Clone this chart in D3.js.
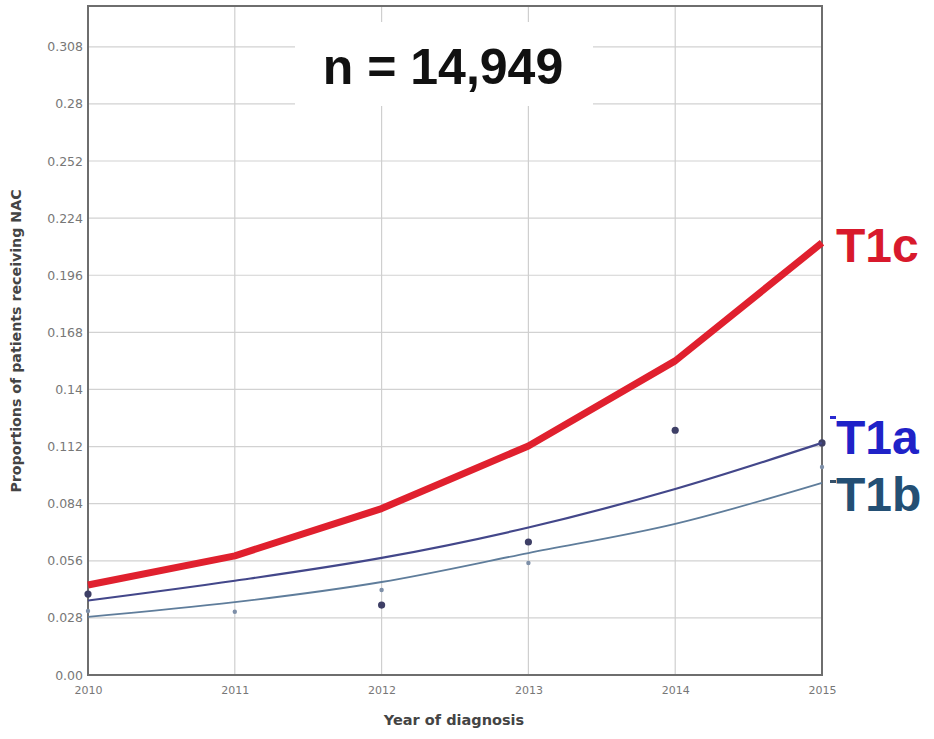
<!DOCTYPE html>
<html><head><meta charset="utf-8">
<script src="https://cdn.jsdelivr.net/npm/d3@7"></script>
<style>body{margin:0;background:#fff}svg{display:block}</style>
</head><body>
<svg id="c" width="934" height="739"></svg>
<script>
const years = [2010, 2011, 2012, 2013, 2014, 2015];
const t1cFit = [0.0441, 0.0584, 0.0816, 0.1123, 0.1540, 0.2119];
const t1aFit = [0.0365, 0.0462, 0.0574, 0.0723, 0.0912, 0.1138];
const t1bFit = [0.0285, 0.0357, 0.0456, 0.0598, 0.0741, 0.0942];
const t1aObs = [0.0397, null, 0.0343, 0.0652, 0.1200, 0.1138];
const t1bObs = [0.0314, 0.0310, 0.0417, 0.0549, null, 0.1020];
const yTicks = [0, 0.028, 0.056, 0.084, 0.112, 0.14, 0.168, 0.196, 0.224, 0.252, 0.28, 0.308];
const yTickLabels = ["0.00", "0.028", "0.056", "0.084", "0.112", "0.14", "0.168", "0.196", "0.224", "0.252", "0.28", "0.308"];
const seriesNames = ["T1c", "T1a", "T1b"];

const svg = d3.select("#c");
const L = 88, R = 822, T = 6, B = 675;
const x = d3.scaleLinear().domain([2010, 2015]).range([L, R]);
const y = d3.scaleLinear().domain([0, 0.328]).range([B, T]);

// gridlines
const g = svg.append("g");
g.selectAll("line.h").data(yTicks).join("line")
  .attr("x1", L).attr("x2", R).attr("y1", d => y(d)).attr("y2", d => y(d))
  .attr("stroke", "#d2d2d2").attr("stroke-width", 1.2);
g.selectAll("line.v").data(years).join("line")
  .attr("x1", d => x(d)).attr("x2", d => x(d)).attr("y1", T).attr("y2", B)
  .attr("stroke", "#cfcfcf").attr("stroke-width", 1.2);

// axes
const yAxis = d3.axisLeft(y).tickValues(yTicks).tickSize(0).tickPadding(5)
  .tickFormat((d, i) => yTickLabels[i]);
const ya = svg.append("g").attr("transform", `translate(${L},0)`).call(yAxis);
ya.select(".domain").remove();
ya.selectAll("text").attr("font-family", "DejaVu Sans, Verdana, sans-serif")
  .attr("font-size", 12.5).attr("fill", "#777");

const xAxis = d3.axisBottom(x).tickValues(years).tickSize(0).tickPadding(11).tickFormat(d3.format("d"));
const xa = svg.append("g").attr("transform", `translate(0,${B})`).call(xAxis);
xa.select(".domain").remove();
xa.selectAll("text").attr("font-family", "DejaVu Sans, Verdana, sans-serif")
  .attr("font-size", 11).attr("fill", "#777");

// frame
svg.append("rect").attr("x", L).attr("y", T).attr("width", R - L).attr("height", B - T)
  .attr("fill", "none").attr("stroke", "#6e6e6e").attr("stroke-width", 2);

// axis titles
svg.append("text").attr("x", 454).attr("y", 725).attr("text-anchor", "middle")
  .attr("font-family", "DejaVu Sans, Verdana, sans-serif").attr("font-weight", "bold")
  .attr("font-size", 14.5).attr("fill", "#444").text("Year of diagnosis");
svg.append("text").attr("transform", "translate(21,341) rotate(-90)").attr("text-anchor", "middle")
  .attr("font-family", "DejaVu Sans, Verdana, sans-serif").attr("font-weight", "bold")
  .attr("font-size", 14.2).attr("fill", "#444").text("Proportions of patients receiving NAC");

// n label with white box
svg.append("rect").attr("x", 295).attr("y", 22).attr("width", 298).attr("height", 84).attr("fill", "#fff");
svg.append("text").attr("x", 443).attr("y", 84).attr("text-anchor", "middle")
  .attr("font-family", "Liberation Sans, Arial, sans-serif").attr("font-weight", "bold")
  .attr("font-size", 50).attr("fill", "#111").text("n = 14,949");

const line = d3.line().x((d, i) => x(years[i])).y(d => y(d));
const lineSmooth = d3.line().x((d, i) => x(years[i])).y(d => y(d)).curve(d3.curveMonotoneX);

// observed points
svg.append("g").selectAll("circle").data(t1bObs.map((v, i) => [years[i], v]).filter(d => d[1] != null)).join("circle")
  .attr("cx", d => x(d[0])).attr("cy", d => y(d[1])).attr("r", 2.2).attr("fill", "#7d8fa8");
svg.append("g").selectAll("circle").data(t1aObs.map((v, i) => [years[i], v]).filter(d => d[1] != null)).join("circle")
  .attr("cx", d => x(d[0])).attr("cy", d => y(d[1])).attr("r", 3.6).attr("fill", "#3e3f66");

// fitted lines
svg.append("path").datum(t1bFit).attr("d", lineSmooth).attr("fill", "none")
  .attr("stroke", "#5f7d9b").attr("stroke-width", 1.8);
svg.append("path").datum(t1aFit).attr("d", lineSmooth).attr("fill", "none")
  .attr("stroke", "#43478a").attr("stroke-width", 2.2);
svg.append("path").datum(t1cFit).attr("d", line).attr("fill", "none")
  .attr("stroke", "#e0202e").attr("stroke-width", 7).attr("stroke-linejoin", "round");

// legend markers and labels
const lab = [
  {name: seriesNames[0], yy: 262, col: "#d8192c"},
  {name: seriesNames[1], yy: 454, col: "#1f22c8"},
  {name: seriesNames[2], yy: 511, col: "#234f74"}
];
svg.append("rect").attr("x", 830).attr("y", 416).attr("width", 6).attr("height", 3).attr("fill", "#2a2ad0");
svg.append("rect").attr("x", 830).attr("y", 480).attr("width", 6).attr("height", 3).attr("fill", "#35506a");
svg.append("g").selectAll("text").data(lab).join("text")
  .attr("x", 836).attr("y", d => d.yy)
  .attr("font-family", "Liberation Sans, Arial, sans-serif").attr("font-weight", "bold")
  .attr("font-size", 48).attr("fill", d => d.col).text(d => d.name);
</script>
</body></html>
